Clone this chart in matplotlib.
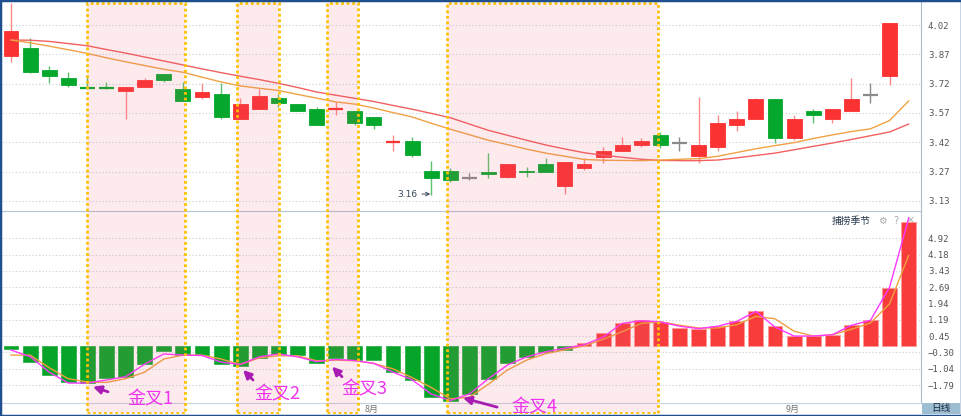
import matplotlib
matplotlib.use("Agg")
import matplotlib.pyplot as plt
from matplotlib.patches import Rectangle
import numpy as np

plt.rcParams["font.family"] = ["Noto Sans CJK SC", "DejaVu Sans"]

# ---- daily candles ----
opens = [3.863, 3.902, 3.792, 3.752, 3.701, 3.701, 3.686, 3.708, 3.772, 3.695,
         3.654, 3.671, 3.545, 3.595, 3.652, 3.620, 3.595, 3.593, 3.585, 3.553,
         3.428, 3.435, 3.283, 3.283, 3.248, 3.275, 3.253, 3.283, 3.315, 3.206,
         3.295, 3.354, 3.384, 3.413, 3.464, 3.425, 3.357, 3.404, 3.514, 3.545,
         3.644, 3.447, 3.585, 3.545, 3.587, 3.666, 3.762]
closes = [3.990, 3.784, 3.764, 3.715, 3.697, 3.697, 3.705, 3.742, 3.742, 3.636,
          3.683, 3.553, 3.620, 3.662, 3.624, 3.587, 3.514, 3.595, 3.523, 3.514,
          3.431, 3.362, 3.245, 3.236, 3.248, 3.265, 3.315, 3.275, 3.275, 3.325,
          3.315, 3.384, 3.413, 3.435, 3.413, 3.425, 3.413, 3.523, 3.545, 3.644,
          3.447, 3.545, 3.565, 3.595, 3.644, 3.666, 4.032]
highs = [4.133, 3.953, 3.813, 3.782, 3.767, 3.733, 3.705, 3.753, 3.772, 3.733,
         3.725, 3.725, 3.652, 3.695, 3.671, 3.620, 3.604, 3.632, 3.585, 3.553,
         3.464, 3.455, 3.334, 3.295, 3.270, 3.371, 3.315, 3.303, 3.346, 3.325,
         3.346, 3.404, 3.455, 3.447, 3.480, 3.455, 3.654, 3.565, 3.585, 3.652,
         3.644, 3.565, 3.595, 3.595, 3.753, 3.725, 4.032]
lows = [3.834, 3.776, 3.725, 3.705, 3.695, 3.697, 3.545, 3.708, 3.733, 3.636,
        3.644, 3.545, 3.545, 3.595, 3.607, 3.587, 3.514, 3.565, 3.514, 3.492,
        3.384, 3.354, 3.160, 3.227, 3.236, 3.245, 3.245, 3.253, 3.275, 3.165,
        3.287, 3.323, 3.384, 3.404, 3.396, 3.384, 3.323, 3.384, 3.484, 3.545,
        3.425, 3.438, 3.526, 3.526, 3.587, 3.624, 3.717]

# moving averages on the price panel (48 points, one beyond the last candle)
ma_fast = [3.944, 3.930, 3.913, 3.895, 3.876, 3.854, 3.834, 3.815, 3.796, 3.781,
           3.756, 3.732, 3.712, 3.700, 3.689, 3.669, 3.650, 3.631, 3.620, 3.600,
           3.577, 3.555, 3.523, 3.493, 3.465, 3.437, 3.415, 3.392, 3.372, 3.356,
           3.340, 3.336, 3.335, 3.334, 3.337, 3.341, 3.344, 3.356, 3.375, 3.394,
           3.410, 3.425, 3.446, 3.464, 3.481, 3.495, 3.537, 3.636]
ma_slow = [3.944, 3.943, 3.937, 3.926, 3.915, 3.896, 3.878, 3.858, 3.838, 3.818,
           3.798, 3.779, 3.761, 3.744, 3.725, 3.704, 3.681, 3.665, 3.649, 3.633,
           3.613, 3.594, 3.573, 3.551, 3.519, 3.487, 3.462, 3.437, 3.413, 3.393,
           3.374, 3.361, 3.351, 3.341, 3.335, 3.334, 3.334, 3.337, 3.348, 3.360,
           3.372, 3.389, 3.406, 3.423, 3.441, 3.460, 3.479, 3.519]

# ---- 捕捞季节 oscillator ----
hist = [-0.14, -0.72, -1.33, -1.67, -1.71, -1.48, -1.41, -0.83, -0.22, -0.42,
        -0.42, -0.85, -0.92, -0.54, -0.37, -0.42, -0.80, -0.54, -0.64, -0.64,
        -1.18, -1.56, -2.32, -2.51, -2.21, -1.51, -0.80, -0.50, -0.29, -0.19,
        0.12, 0.58, 1.03, 1.18, 1.08, 0.83, 0.79, 0.91, 1.14, 1.60,
        0.90, 0.45, 0.45, 0.51, 0.97, 1.17, 2.66, 5.67]
line_fast = [-0.19, -0.49, -1.20, -1.70, -1.70, -1.56, -1.41, -0.83, -0.37, -0.42,
             -0.44, -0.74, -0.85, -0.50, -0.37, -0.50, -0.72, -0.62, -0.67, -0.80,
             -1.20, -1.55, -2.20, -2.50, -2.20, -1.50, -0.87, -0.50, -0.27, -0.10,
             0.05, 0.40, 1.03, 1.15, 1.10, 0.90, 0.79, 0.90, 1.12, 1.58,
             0.86, 0.45, 0.45, 0.51, 0.94, 1.17, 2.69, 5.85]
line_slow = [-0.42, -0.42, -1.00, -1.50, -1.65, -1.67, -1.50, -1.20, -0.60, -0.42,
             -0.42, -0.60, -0.85, -0.55, -0.45, -0.45, -0.68, -0.65, -0.68, -0.80,
             -1.05, -1.45, -1.90, -2.42, -2.35, -1.75, -1.10, -0.65, -0.35, -0.18,
             0.00, 0.30, 0.65, 1.03, 1.10, 0.95, 0.82, 0.82, 0.97, 1.35,
             1.24, 0.67, 0.45, 0.51, 0.76, 1.05, 1.93, 4.14]

price_labels = ["4.02", "3.87", "3.72", "3.57", "3.42", "3.27", "3.13"]
osc_labels = ["4.92", "4.18", "3.43", "2.69", "1.94", "1.19", "0.45",
              "\u22120.30", "\u22121.04", "\u22121.79"]

# highlighted golden-cross windows (in bar-index units)
spans = [(3.98, 9.11), (11.83, 14.03), (16.54, 18.17), (22.83, 33.87)]
cross_labels = ["金叉1", "金叉2", "金叉3", "金叉4"]
months = ["8月", "9月"]
month_pos = [18.9, 40.94]

W, H = 962, 416
UP, DOWN, FLAT = "#fa3232", "#05a82c", "#8a8a8a"
GRID = "#c5d0da"


def px_box(x0, y0, x1, y1):
    return [x0 / W, 1 - y1 / H, (x1 - x0) / W, (y1 - y0) / H]


def main() -> None:
    fig = plt.figure(figsize=(W / 100, H / 100), dpi=100)
    fig.patch.set_facecolor("white")
    xlim = ((2 - 11) / 19.1, (921 - 11) / 19.1)

    # ---------- price panel ----------
    ax = fig.add_axes(px_box(2, 2, 921, 211))
    n = len(opens)
    x = np.arange(n)
    o, c, h, l = map(np.array, (opens, closes, highs, lows))
    col = np.where(c > o + 1e-9, UP, np.where(c < o - 1e-9, DOWN, FLAT))
    wick = np.where(c > o + 1e-9, "#ff8a8a", np.where(c < o - 1e-9, "#5cc26c", FLAT))
    ax.vlines(x, l, h, colors=wick, lw=1.0, zorder=2)
    body_lo = np.minimum(o, c)
    body_h = np.abs(c - o)
    thick = body_h >= 0.005
    ax.bar(x[thick], body_h[thick], bottom=body_lo[thick], width=0.78,
           color=col[thick], edgecolor=col[thick], lw=0.6, zorder=3)
    for i in x[~thick]:
        ax.hlines((o[i] + c[i]) / 2, i - 0.39, i + 0.39, colors=col[i], lw=1.6, zorder=3)

    xm = np.arange(len(ma_fast))
    ax.plot(xm, ma_slow, color="#f26060", lw=1.0, zorder=4)
    ax.plot(xm, ma_fast, color="#f0a245", lw=1.0, zorder=4)

    ax.annotate("3.16", xy=(21.95, 3.165), xytext=(21.3, 3.165), ha="right",
                va="center", fontsize=6.5, color="#34445a",
                family=["DejaVu Sans"],
                arrowprops=dict(arrowstyle="->", color="#34445a", lw=0.7,
                                shrinkA=1, shrinkB=0))

    ax.set_xlim(*xlim)
    ax.set_ylim(4.02 - 186 * 0.005058, 4.02 + 23 * 0.005058)
    pticks = np.linspace(4.02, 3.13, len(price_labels))
    ax.set_yticks(pticks)
    ax.set_yticklabels(price_labels)
    ax.yaxis.tick_right()
    ax.tick_params(axis="y", length=0, pad=5, labelsize=6.5, labelcolor="#555555")
    ax.set_xticks([])
    for t in ax.get_yticklabels():
        t.set_family(["DejaVu Sans Mono"])
    ax.grid(axis="y", color=GRID, ls=(0, (1, 2)), lw=0.8)
    for s in ("top", "left", "bottom"):
        ax.spines[s].set_visible(False)
    ax.spines["right"].set_color("#a8bccc")

    # ---------- oscillator panel ----------
    ax2 = fig.add_axes(px_box(2, 211, 921, 403))
    xb = np.arange(len(hist))
    hv = np.array(hist)
    bcol = np.where(hv >= 0, "#f83c3c", "#06a52a")
    ax2.bar(xb, hv, width=0.78, color=bcol, edgecolor=np.where(hv >= 0, "#ff9a9a", "#2fb04a"),
            lw=0.6, zorder=3)
    ax2.plot(xb, line_slow, color="#f0a040", lw=1.0, zorder=4)
    ax2.plot(xb, line_fast, color="#ff38ff", lw=1.0, zorder=5)
    ax2.set_xlim(*xlim)
    ax2.set_ylim((345.9 - 403) / 21.86, (345.9 - 211) / 21.86)
    oticks = np.linspace(4.92, -1.79, len(osc_labels))
    ax2.set_yticks(oticks)
    ax2.set_yticklabels(osc_labels)
    ax2.yaxis.tick_right()
    ax2.tick_params(axis="y", length=0, pad=5, labelsize=6.5, labelcolor="#555555")
    for t in ax2.get_yticklabels():
        t.set_family(["DejaVu Sans Mono"])
    ax2.set_xticks([])
    ax2.grid(axis="y", color=GRID, ls=(0, (1, 2)), lw=0.8)
    ax2.spines["left"].set_visible(False)
    ax2.spines["top"].set_color("#b4c4d2")
    ax2.spines["bottom"].set_color("#c8d4de")
    ax2.spines["right"].set_color("#a8bccc")
    ax2.text(0.945, 0.975, "捕捞季节", transform=ax2.transAxes, ha="right", va="top",
             fontsize=7, color="#26364a")
    ax2.text(0.958, 0.975, "\u2699", transform=ax2.transAxes, ha="center", va="top",
             fontsize=7, color="#aaaaaa", family=["DejaVu Sans"])
    ax2.text(0.973, 0.975, "?", transform=ax2.transAxes, ha="center", va="top",
             fontsize=7, color="#aaaaaa", family=["DejaVu Sans"])
    ax2.text(0.988, 0.975, "\u00d7", transform=ax2.transAxes, ha="center", va="top",
             fontsize=8, color="#aaaaaa", family=["DejaVu Sans"])

    # ---------- date strip ----------
    ax3 = fig.add_axes(px_box(2, 403, 921, 414))
    ax3.set_xlim(*xlim)
    ax3.set_ylim(0, 1)
    ax3.axis("off")
    for lab, pos in zip(months, month_pos):
        ax3.text(pos, 0.45, lab, ha="center", va="center", fontsize=6.5, color="#777777")
    fig.patches.append(Rectangle((922 / W, 1 - 414 / H), 38 / W, 11 / H,
                                 transform=fig.transFigure, facecolor="#9cbdd2",
                                 edgecolor="none", zorder=1))
    fig.text(941 / W, 1 - 408.5 / H, "日线", ha="center", va="center", fontsize=7,
             color="#1a2a3c")

    # ---------- highlight windows + annotations on top ----------
    ov = fig.add_axes(px_box(2, 2, 921, 414))
    ov.set_xlim(*xlim)
    ov.set_ylim(0, 1)
    ov.axis("off")
    ov.patch.set_alpha(0)
    for x0, x1 in spans:
        ov.add_patch(Rectangle((x0, 0.002), x1 - x0, 0.996, facecolor="#e8607a",
                               alpha=0.13, edgecolor="none", zorder=1))
        ov.add_patch(Rectangle((x0, 0.002), x1 - x0, 0.996, facecolor="none",
                               edgecolor="#ffc000", lw=2.0, ls=(0, (1, 1)), zorder=2))

    arrows = [((4.29, -1.87), (5.08, -2.10), (7.28, -2.47)),
              ((12.15, -1.10), (12.67, -1.56), (13.93, -2.22)),
              ((16.81, -0.95), (17.33, -1.41), (18.53, -1.99)),
              ((23.66, -2.38), (25.45, -2.80), (27.38, -2.80))]
    for lab, (head, tail, tpos) in zip(cross_labels, arrows):
        ov.annotate("", xy=head, xytext=tail, xycoords=ax2.transData,
                    textcoords=ax2.transData, annotation_clip=False,
                    arrowprops=dict(arrowstyle="-|>", color="#a81cb4", lw=2.0,
                                    mutation_scale=12, shrinkA=0, shrinkB=0),
                    zorder=5)
        ov.annotate(lab, xy=tpos, xycoords=ax2.transData, ha="center", va="center",
                    fontsize=13, color="#f032f0", annotation_clip=False, zorder=6)

    # outer frame
    fig.patches.append(Rectangle((0, 0), 1, 1, transform=fig.transFigure,
                                 facecolor="none", edgecolor="#1f4f8f", lw=2.5,
                                 zorder=10))

    fig.savefig("out.png", dpi=100)


if __name__ == "__main__":
    main()
